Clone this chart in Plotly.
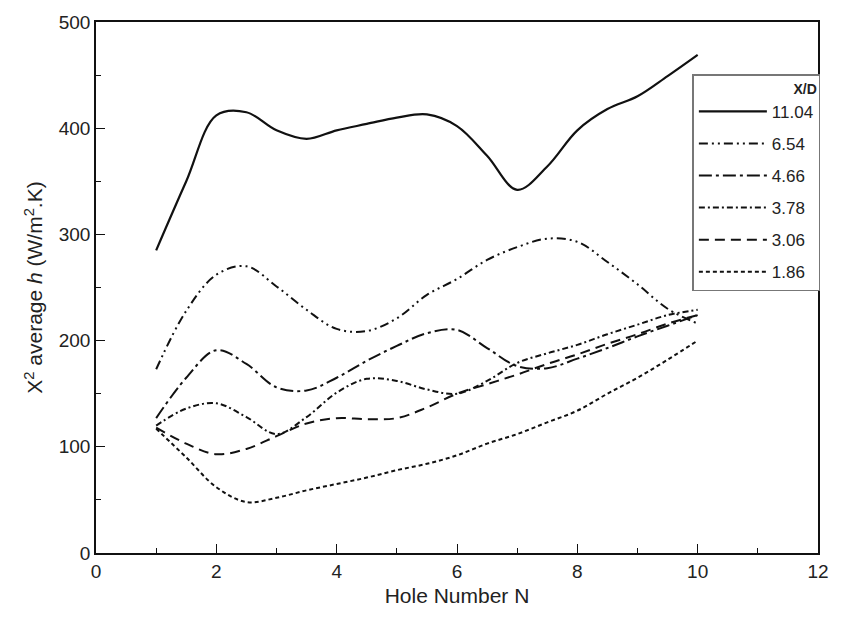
import plotly.graph_objects as go

N = [1, 1.5, 2, 2.5, 3, 3.5, 4, 4.5, 5, 5.5, 6, 6.5, 7, 7.5, 8, 8.5, 9, 9.5, 10]

xd_labels = ["11.04", "6.54", "4.66", "3.78", "3.06", "1.86"]

h_1104 = [285, 350, 412, 415, 398, 390, 398, 404, 410, 413, 402, 374, 342, 364, 398, 418, 430, 449, 469]
h_654 = [173, 228, 262, 270, 251, 229, 211, 209, 221, 243, 258, 276, 288, 296, 293, 274, 253, 230, 216]
h_466 = [127, 165, 191, 178, 156, 153, 165, 181, 195, 207, 210, 193, 176, 174, 183, 193, 204, 214, 224]
h_378 = [120, 136, 141, 128, 112, 128, 151, 164, 162, 154, 150, 162, 179, 188, 196, 206, 215, 224, 229]
h_306 = [118, 103, 93, 98, 110, 122, 127, 126, 127, 137, 150, 159, 168, 178, 187, 197, 206, 216, 224]
h_186 = [117, 90, 62, 48, 52, 59, 65, 71, 78, 84, 92, 103, 112, 123, 134, 150, 165, 182, 200]

series = [h_1104, h_654, h_466, h_378, h_306, h_186]
dashes = ["solid", "9px,4px,2px,4px,2px,4px", "13px,4px,3px,4px", "6px,3px,2px,3px", "10px,6px", "4px,3px"]
widths = [2.2, 2, 2, 2, 2, 2]

fig = go.Figure()
for i, (lab, ys) in enumerate(zip(xd_labels, series)):
    fig.add_trace(go.Scatter(
        x=N, y=ys, mode="lines", name=lab,
        line=dict(color="#111111", width=widths[i], dash=dashes[i], shape="spline", smoothing=1.0),
        legendgroup=lab,
    ))

font_family = "Liberation Sans, Arial, sans-serif"
axis_common = dict(
    showline=True, linecolor="#111111", linewidth=1.5, mirror=True,
    ticks="inside", ticklen=9, tickwidth=1.3, tickcolor="#111111",
    showgrid=False, zeroline=False,
    tickfont=dict(family=font_family, size=19, color="#222222"),
)

fig.update_layout(
    width=841, height=622,
    margin=dict(l=96, r=14, t=19, b=69),
    paper_bgcolor="white", plot_bgcolor="white",
    font=dict(family=font_family, color="#222222"),
    xaxis=dict(range=[0, 12], dtick=2, tick0=0,
               minor=dict(dtick=1, ticks="inside", ticklen=5, tickwidth=1.2, tickcolor="#111111"),
               title=dict(text="Hole Number N", font=dict(size=21), standoff=8),
               **axis_common),
    yaxis=dict(range=[0, 500], dtick=100, tick0=0,
               minor=dict(dtick=50, ticks="inside", ticklen=5, tickwidth=1.2, tickcolor="#111111"),
               title=dict(text="X<sup>2</sup> average <i>h</i> (W/m<sup>2</sup>.K)", font=dict(size=21), standoff=10),
               **axis_common),
    legend=dict(
        x=0.826, y=0.902, xanchor="left", yanchor="top",
        bordercolor="#777777", borderwidth=1.5, bgcolor="white",
        title=dict(text="<b>X/D</b>", font=dict(size=14), side="top right"),
        font=dict(size=17, color="#222222"),
        tracegroupgap=7,
        itemwidth=68,
    ),
)

fig.write_html("out.html")
